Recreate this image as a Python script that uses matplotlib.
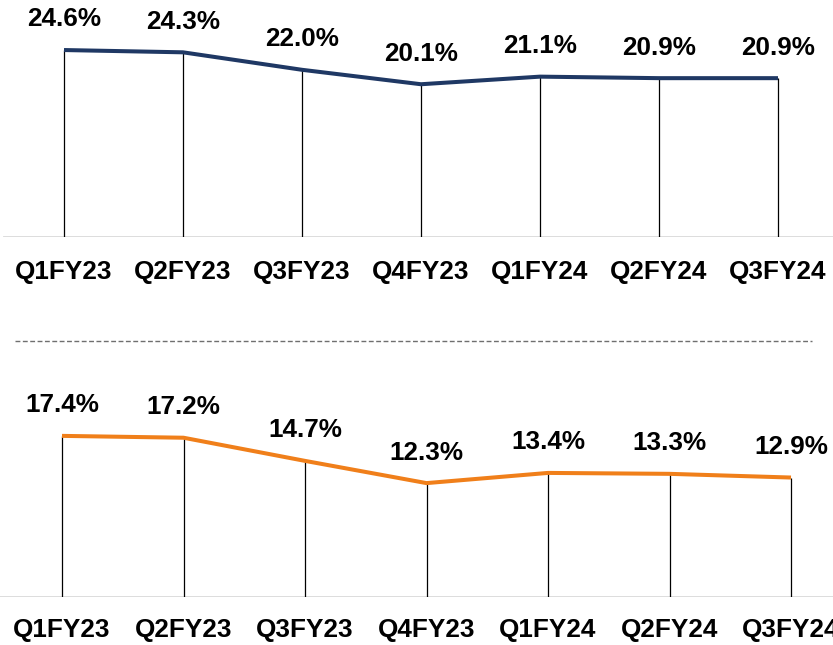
import matplotlib
matplotlib.use("Agg")
import matplotlib.pyplot as plt
from matplotlib.lines import Line2D

categories = ["Q1FY23", "Q2FY23", "Q3FY23", "Q4FY23", "Q1FY24", "Q2FY24", "Q3FY24"]
top_values = [24.6, 24.3, 22.0, 20.1, 21.1, 20.9, 20.9]
bottom_values = [17.4, 17.2, 14.7, 12.3, 13.4, 13.3, 12.9]

W, H = 833, 645
plt.rcParams['font.family'] = ['Liberation Sans', 'DejaVu Sans']
fig = plt.figure(figsize=(W / 100, H / 100), dpi=100)


def panel(base_px, x0_px, dx_px, ppu, values, color, label_off_px, base_xmin_px, top_px):
    bottom = (H - base_px) / H
    height = (base_px - top_px) / H
    ax = fig.add_axes([0, bottom, 1, height])
    n = len(values)
    ax.set_xlim(-x0_px / dx_px, (W - x0_px) / dx_px)
    ax.set_ylim(0, (base_px - top_px) / ppu)
    ax.axis('off')
    xs = list(range(n))
    ax.vlines(xs, 0, values, colors='black', lw=0.9, zorder=2)
    ax.plot(xs, values, color=color, lw=2.9, solid_capstyle='butt', zorder=3)
    ax.axhline(0, xmin=base_xmin_px / W, xmax=1, color='#d9d9d9', lw=2, zorder=1)
    for x, v in zip(xs, values):
        ax.annotate(f"{v:.1f}%", (x, v), xytext=(0, 22), textcoords='offset points',
                    ha='center', va='center', fontsize=18.8, fontweight='bold',
                    color='black', annotation_clip=False)
    for x, c in zip(xs, categories):
        ax.text(x, -label_off_px / ppu, c, ha='center', va='center', fontsize=18.8,
                fontweight='bold', color='black', clip_on=False)
    return ax


panel(237, 64, 119, 7.6, top_values, '#1F3864', 35, 4, 0)
panel(597, 62, 121.5, 9.26, bottom_values, '#F07F1A', 33, 0, 345)

fig.add_artist(Line2D([15 / W, 812 / W], [(H - 341) / H] * 2, transform=fig.transFigure,
                      color='#6f6f6f', lw=1, linestyle=(0, (3.5, 1.8))))

fig.savefig("out.png", dpi=100)
